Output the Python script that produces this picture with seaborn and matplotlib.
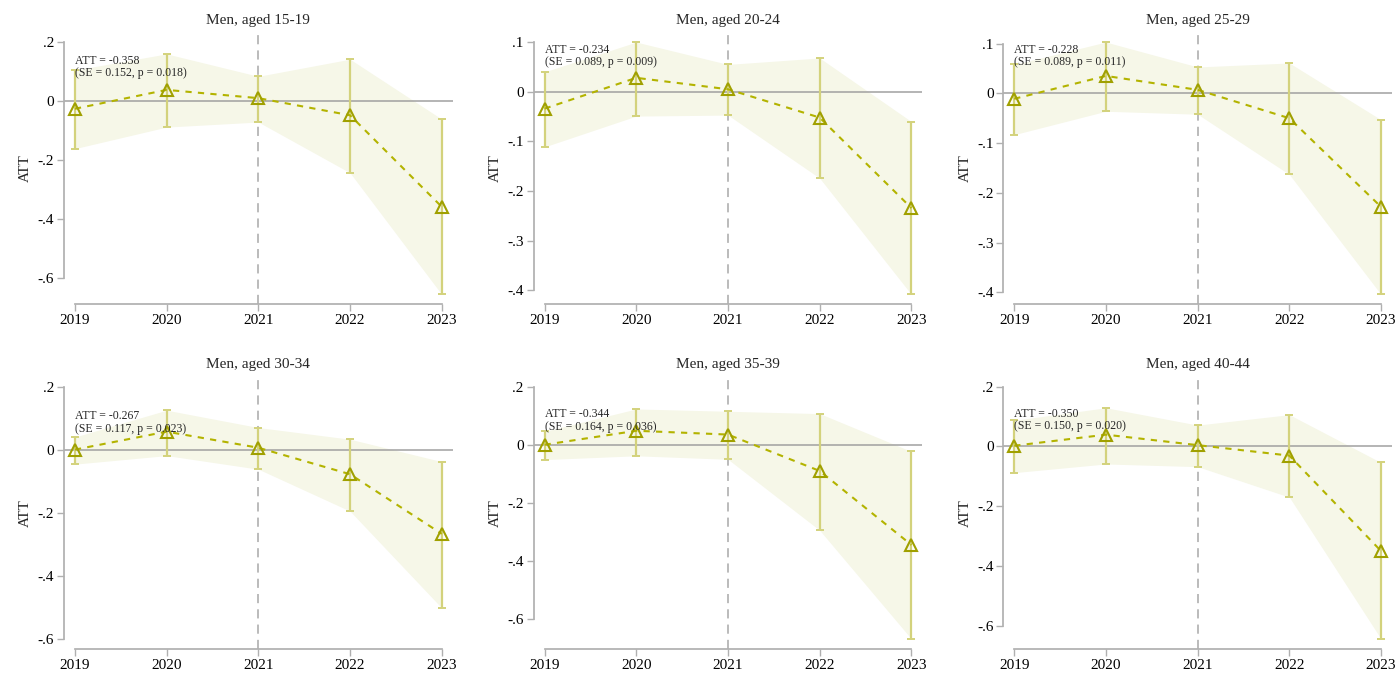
import numpy as np
import pandas as pd
import matplotlib
matplotlib.use('Agg')
import matplotlib.pyplot as plt
import seaborn as sns

# event-study estimates (ATT by year, 95% CI bounds)
years = [2019, 2020, 2021, 2022, 2023]
groups = ['15-19', '20-24', '25-29', '30-34', '35-39', '40-44']

att_15_19 = [-0.026, 0.038, 0.010, -0.048, -0.358]
lo_15_19 = [-0.161, -0.088, -0.071, -0.243, -0.655]
hi_15_19 = [0.105, 0.160, 0.084, 0.142, -0.061]

att_20_24 = [-0.034, 0.028, 0.005, -0.052, -0.234]
lo_20_24 = [-0.111, -0.049, -0.047, -0.174, -0.408]
hi_20_24 = [0.040, 0.100, 0.055, 0.068, -0.060]

att_25_29 = [-0.011, 0.035, 0.007, -0.050, -0.228]
lo_25_29 = [-0.083, -0.036, -0.042, -0.163, -0.404]
hi_25_29 = [0.058, 0.103, 0.053, 0.061, -0.053]

att_30_34 = [0.000, 0.057, 0.006, -0.078, -0.267]
lo_30_34 = [-0.046, -0.019, -0.062, -0.195, -0.502]
hi_30_34 = [0.040, 0.125, 0.070, 0.033, -0.038]

att_35_39 = [0.000, 0.048, 0.035, -0.090, -0.344]
lo_35_39 = [-0.051, -0.038, -0.050, -0.294, -0.667]
hi_35_39 = [0.046, 0.123, 0.115, 0.107, -0.023]

att_40_44 = [0.002, 0.039, 0.004, -0.031, -0.350]
lo_40_44 = [-0.088, -0.059, -0.068, -0.170, -0.644]
hi_40_44 = [0.087, 0.129, 0.071, 0.106, -0.054]

# summary text per panel: (ATT, SE, p)
summary = [(-0.358, 0.152, 0.018), (-0.234, 0.089, 0.009), (-0.228, 0.089, 0.011),
           (-0.267, 0.117, 0.023), (-0.344, 0.164, 0.036), (-0.350, 0.150, 0.020)]

# y tick ranges (bottom, top, step) per panel
yticks_spec = [(-0.6, 0.2, 0.2), (-0.4, 0.1, 0.1), (-0.4, 0.1, 0.1),
               (-0.6, 0.2, 0.2), (-0.6, 0.2, 0.2), (-0.6, 0.2, 0.2)]

series = [(att_15_19, lo_15_19, hi_15_19), (att_20_24, lo_20_24, hi_20_24),
          (att_25_29, lo_25_29, hi_25_29), (att_30_34, lo_30_34, hi_30_34),
          (att_35_39, lo_35_39, hi_35_39), (att_40_44, lo_40_44, hi_40_44)]

LINE = '#b3b300'
EDGE = '#a0a000'
BAR = '#d3d27c'
BAND = '#f6f7e8'
GREY = '#a8a8a8'

sns.set_theme(style='white')
plt.rcParams['font.family'] = ['Liberation Serif', 'DejaVu Serif']
plt.rcParams['axes.edgecolor'] = '#b0b0b0'
plt.rcParams['xtick.color'] = '#b0b0b0'
plt.rcParams['ytick.color'] = '#b0b0b0'
plt.rcParams['xtick.labelcolor'] = 'black'
plt.rcParams['ytick.labelcolor'] = 'black'


def stata_fmt(v):
    # Stata style labels: .2, 0, -.4
    if abs(v) < 1e-9:
        return '0'
    s = f'{v:g}'
    return s.replace('0.', '.')


fig, axes = plt.subplots(2, 3, figsize=(13.99, 6.76))
fig.subplots_adjust(left=0.0457, right=0.995, top=0.9527, bottom=0.04,
                    wspace=0.208, hspace=0.264)

for ax, grp, (att, lo, hi), (a, se, p), (t_lo, t_hi, step) in zip(
        axes.flat, groups, series, summary, yticks_spec):
    df = pd.DataFrame({'year': years, 'att': att, 'lo': lo, 'hi': hi})

    ax.fill_between(df['year'], df['lo'], df['hi'], color=BAND, lw=0, zorder=1)
    ax.axhline(0, color='#a0a0a0', lw=1.1, zorder=2)
    ax.axvline(2021, color=GREY, lw=1.1, ls=(0, (6, 4)), zorder=2)
    ax.errorbar(df['year'], df['att'],
                yerr=[df['att'] - df['lo'], df['hi'] - df['att']],
                fmt='none', ecolor=BAR, elinewidth=1.6, capsize=3, capthick=1.4,
                zorder=3)
    sns.lineplot(data=df, x='year', y='att', ax=ax, color=LINE, lw=1.5,
                 linestyle=(0, (3, 3)), marker='^', markersize=8,
                 markerfacecolor='none', markeredgecolor=EDGE,
                 markeredgewidth=1.5, zorder=4)

    ticks = np.round(np.arange(t_lo, t_hi + step / 2, step), 2)
    ymin = min(t_lo, min(lo))
    ymax = max(t_hi, max(hi))
    pad = 0.04 * (ymax - ymin)
    ax.set_ylim(ymin - pad, ymax + pad)
    ax.set_yticks(ticks)
    ax.set_yticklabels([stata_fmt(t) for t in ticks])
    ax.set_xlim(2018.88, 2023.12)
    ax.set_xticks(years)
    ax.set_xticklabels([str(y) for y in years])
    ax.tick_params(axis='both', direction='out', length=5, width=1,
                   labelsize=11, pad=2, left=True, bottom=True)
    ax.set_xlabel('')
    ax.set_ylabel('ATT', fontsize=11)
    ax.set_title(f'Men, aged {grp}', fontsize=11, pad=6)

    ax.annotate(f'ATT = {a:.3f}\n(SE = {se:.3f}, p = {p:.3f})',
                xy=(2019, 0.85 * max(hi)), xytext=(0, -4.5),
                textcoords='offset points', ha='left', va='center',
                fontsize=8.5, linespacing=1.05, zorder=5)

    sns.despine(ax=ax, trim=True)

fig.savefig('out.png', dpi=100)
plt.close(fig)
